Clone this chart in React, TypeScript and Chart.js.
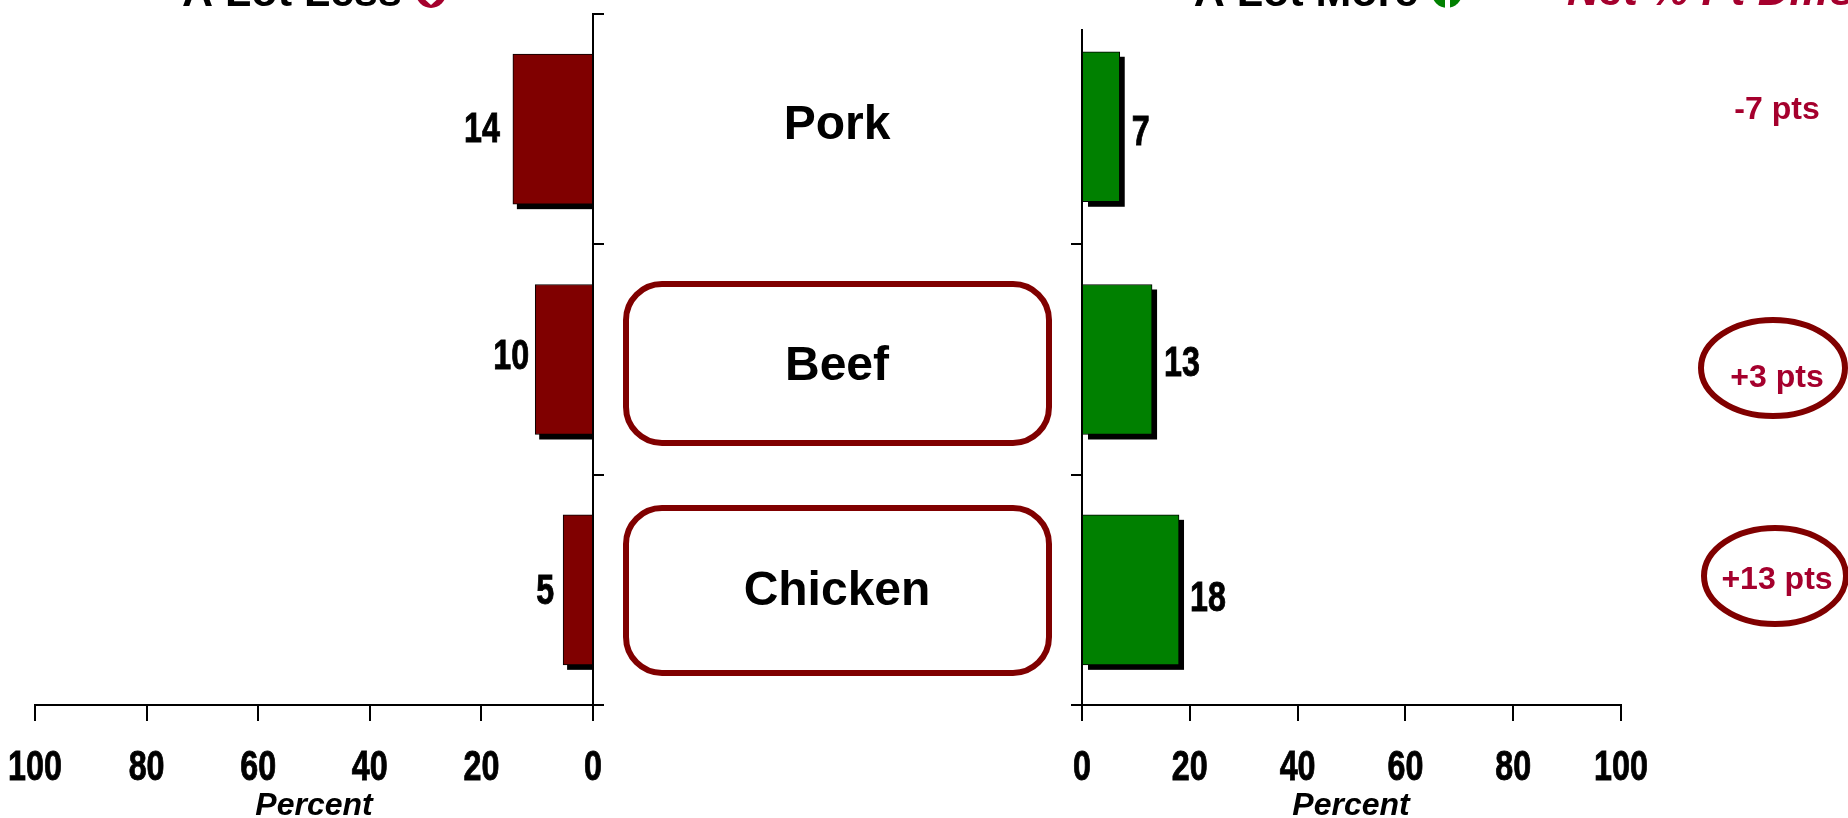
import React, { useEffect, useRef } from "react";
import { Chart, registerables } from "chart.js";

Chart.register(...registerables);

const categories = ["Pork", "Beef", "Chicken"];
const lessValues = [14, 10, 5];
const moreValues = [7, 13, 18];
const netLabels = ["-7 pts", "+3 pts", "+13 pts"];
const axisTicks = [0, 20, 40, 60, 80, 100];
const highlightedCategories = ["Beef", "Chicken"];

const DARK_RED = "#800000";
const GREEN = "#008000";
const NET_RED = "#A5002D";
const SANS = '"Liberation Sans", Arial, sans-serif';
const NARROW_FONT = `bold 43px ${SANS}`;
const NARROW_SX = 0.75;

const LEFT_W = 1070;
const RIGHT_X = 1060;
const RIGHT_W = 788;
const H = 818;

function text(ctx: any, s: string, x: number, y: number, font: string, color: string, align: any = "center", baseline: any = "alphabetic", sx = 1) {
  ctx.save();
  ctx.font = font;
  ctx.fillStyle = color;
  ctx.textAlign = align;
  ctx.textBaseline = baseline;
  ctx.translate(x, y);
  ctx.scale(sx, 1);
  if (sx !== 1) {
    ctx.strokeStyle = color;
    ctx.lineWidth = 0.9;
    ctx.strokeText(s, 0, 0);
  }
  ctx.fillText(s, 0, 0);
  ctx.restore();
}

function roundBox(ctx: any, x: number, y: number, w: number, h: number, r: number) {
  ctx.save();
  ctx.strokeStyle = DARK_RED;
  ctx.lineWidth = 6;
  ctx.beginPath();
  ctx.roundRect(x, y, w, h, r);
  ctx.stroke();
  ctx.restore();
}

function drawTickLabels(chart: any) {
  const x = chart.scales.x;
  x.ticks.forEach((tick: any, i: number) => {
    text(chart.ctx, String(tick.value), x.getPixelForTick(i), 780, NARROW_FONT, "#000", "center", "alphabetic", NARROW_SX);
  });
}

function makeShadowPlugin(dx: number, trim: number) {
  return {
    id: "barShadow",
    beforeDatasetsDraw(chart: any) {
      const c = chart.ctx;
      c.save();
      c.fillStyle = "#000";
      chart.getDatasetMeta(0).data.forEach((bar: any) => {
        const l = Math.min(bar.x, bar.base);
        const w = Math.abs(bar.x - bar.base);
        c.fillRect(l + dx, bar.y - bar.height / 2 + 5, w - trim, bar.height);
      });
      c.restore();
    },
  };
}

const leftLabelGaps = [13, 6, 9];
const leftLabelDy = [1, -2.5, 2];
const catDy = [-3, 7, 2];

const leftPlugin = {
  id: "leftExtras",
  afterDatasetsUpdate(chart: any) {
    // the reference bars reach a little past their scale value
    chart.getDatasetMeta(0).data.forEach((bar: any) => {
      bar.x -= 2;
    });
  },
  afterDraw(chart: any) {
    const c = chart.ctx;
    const y = chart.scales.y;
    drawTickLabels(chart);
    const meta = chart.getDatasetMeta(0);
    meta.data.forEach((bar: any, i: number) => {
      const py = y.getPixelForValue(i);
      text(c, String(lessValues[i]), bar.x - leftLabelGaps[i], py + leftLabelDy[i], NARROW_FONT, "#000", "right", "middle", NARROW_SX);
    });
    categories.forEach((cat, i) => {
      const py = y.getPixelForValue(i);
      if (highlightedCategories.includes(cat)) {
        const top = i === 1 ? 284 : 508;
        const bottom = i === 1 ? 443 : 673;
        roundBox(c, 626, top, 423, bottom - top, 36);
      }
      text(c, cat, 837, py + catDy[i], `bold 48px ${SANS}`, "#000", "center", "middle");
    });
    text(c, "A Lot Less", 292, 6, `bold 43px ${SANS}`, "#000");
    text(c, "Percent", 314, 815, `italic bold 32px ${SANS}`, "#000");
    // lower part of the "down" marker, cut by the page edge
    c.save();
    c.fillStyle = NET_RED;
    c.beginPath();
    c.arc(431, -7, 15, 0, Math.PI * 2);
    c.fill();
    c.fillStyle = "#fff";
    c.beginPath();
    c.moveTo(421, -4);
    c.lineTo(441, -4);
    c.lineTo(431, 5);
    c.closePath();
    c.fill();
    c.restore();
  },
};

const rightLabelGaps = [12, 12, 11];
const rightLabelDy = [4.4, 4.4, 9];
const netDy = [-19, 19, -10];

const rightPlugin = {
  id: "rightExtras",
  afterDatasetsUpdate(chart: any) {
    // the Pork bar sits slightly high in its band in the reference
    const bar = chart.getDatasetMeta(0).data[0];
    if (bar) bar.y -= 2.4;
  },
  afterDraw(chart: any) {
    const c = chart.ctx;
    const y = chart.scales.y;
    drawTickLabels(chart);
    const meta = chart.getDatasetMeta(0);
    meta.data.forEach((bar: any, i: number) => {
      const py = y.getPixelForValue(i);
      text(c, String(moreValues[i]), bar.x + rightLabelGaps[i], py + rightLabelDy[i], NARROW_FONT, "#000", "left", "middle", NARROW_SX);
    });
    netLabels.forEach((s, i) => {
      const py = y.getPixelForValue(i);
      text(c, s, 1777 - RIGHT_X, py + netDy[i], `bold 32px ${SANS}`, NET_RED, "center", "middle");
    });
    c.save();
    c.strokeStyle = DARK_RED;
    c.lineWidth = 6;
    c.beginPath();
    c.ellipse(1773 - RIGHT_X, 368, 72, 48, 0, 0, Math.PI * 2);
    c.stroke();
    c.beginPath();
    c.ellipse(1775 - RIGHT_X, 576, 71, 48, 0, 0, Math.PI * 2);
    c.stroke();
    c.restore();
    text(c, "A Lot More", 1306 - RIGHT_X, 6, `bold 43px ${SANS}`, "#000");
    text(c, "Percent", 1351 - RIGHT_X, 815, `italic bold 32px ${SANS}`, "#000");
    text(c, "Net % Pt Diffs", 1567 - RIGHT_X, 5, `italic bold 44px ${SANS}`, NET_RED, "left");
    // lower part of the "up" marker, cut by the page edge
    c.save();
    c.fillStyle = GREEN;
    c.beginPath();
    c.arc(1447 - RIGHT_X, -7, 15, 0, Math.PI * 2);
    c.fill();
    c.fillStyle = "#fff";
    c.fillRect(1445 - RIGHT_X, 0, 5, 10);
    c.restore();
    // the right axis stops short of the top band edge
    c.fillStyle = "#fff";
    c.fillRect(chart.chartArea.left - 2, 0, 3, 29);
  },
};

function makeOptions(side: "left" | "right") {
  const isLeft = side === "left";
  return {
    responsive: false,
    animation: false as const,
    indexAxis: "y" as const,
    layout: {
      padding: isLeft
        ? { left: 35, right: LEFT_W - 604, top: 14, bottom: 0 }
        : { left: 11, right: RIGHT_W - (1621 - RIGHT_X), top: 14, bottom: 0 },
    },
    plugins: { legend: { display: false }, tooltip: { enabled: false }, title: { display: false } },
    scales: {
      x: {
        type: "linear" as const,
        min: 0,
        max: 100,
        reverse: isLeft,
        position: "bottom" as const,
        afterFit: (s: any) => { s.height = H - 705; },
        afterBuildTicks: (s: any) => { s.ticks = axisTicks.map((value) => ({ value })); },
        border: { color: "#000", width: 2 },
        grid: { drawOnChartArea: false, drawTicks: true, tickLength: 16, color: "#000", lineWidth: 2 },
        ticks: { display: false },
      },
      y: {
        type: "category" as const,
        labels: categories,
        position: (isLeft ? "right" : "left") as "right" | "left",
        afterFit: (s: any) => { s.width = 11; },
        border: { color: "#000", width: 2 },
        grid: {
          offset: true,
          drawOnChartArea: false,
          drawTicks: true,
          tickLength: 11,
          lineWidth: 2,
          color: (ctx: any) => (!isLeft && ctx.index === 0 ? "rgba(0,0,0,0)" : "#000"),
        },
        ticks: { display: false },
      },
    },
  };
}

export default function App() {
  const leftRef = useRef<HTMLCanvasElement>(null);
  const rightRef = useRef<HTMLCanvasElement>(null);

  useEffect(() => {
    const left = new Chart(leftRef.current!, {
      type: "bar",
      data: {
        labels: categories,
        datasets: [{ data: lessValues, backgroundColor: DARK_RED, borderColor: "#000", borderWidth: 1, barThickness: 150 }],
      },
      options: makeOptions("left") as any,
      plugins: [makeShadowPlugin(4, 2), leftPlugin],
    });
    const right = new Chart(rightRef.current!, {
      type: "bar",
      data: {
        labels: categories,
        datasets: [{ data: moreValues, backgroundColor: GREEN, borderColor: "#000", borderWidth: 1, barThickness: 150 }],
      },
      options: makeOptions("right") as any,
      plugins: [makeShadowPlugin(5, 0), rightPlugin],
    });
    return () => {
      left.destroy();
      right.destroy();
    };
  }, []);

  return (
    <div style={{ position: "fixed", left: 0, top: 0, width: 1848, height: H, overflow: "hidden", background: "#fff" }}>
      <canvas ref={leftRef} width={LEFT_W} height={H} style={{ position: "absolute", left: 0, top: 0, width: LEFT_W, height: H }} />
      <canvas ref={rightRef} width={RIGHT_W} height={H} style={{ position: "absolute", left: RIGHT_X, top: 0, width: RIGHT_W, height: H }} />
    </div>
  );
}
